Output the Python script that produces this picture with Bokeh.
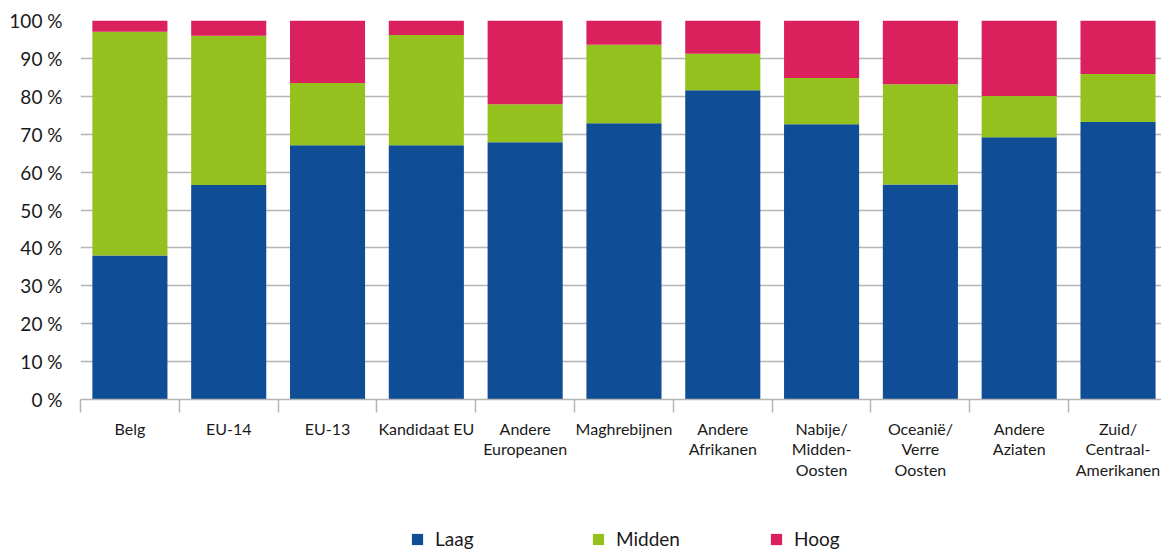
from bokeh.plotting import figure
from bokeh.models import FixedTicker, Legend, LegendItem, ColumnDataSource, Range1d
from bokeh.layouts import column
from bokeh.embed import file_html
from bokeh.resources import INLINE

categories = ["Belg", "EU-14", "EU-13", "Kandidaat EU", "Andere\nEuropeanen", "Maghrebijnen",
              "Andere\nAfrikanen", "Nabije/\nMidden-\nOosten", "Oceanië/\nVerre\nOosten",
              "Andere\nAziaten", "Zuid/\nCentraal-\nAmerikanen"]
laag = [38.0, 56.6, 67.1, 67.1, 67.9, 72.9, 81.6, 72.6, 56.7, 69.2, 73.2]
midden = [59.0, 39.4, 16.4, 29.1, 10.0, 20.7, 9.6, 12.2, 26.5, 10.9, 12.7]
hoog = [3.0, 4.0, 16.5, 3.8, 22.1, 6.4, 8.8, 15.2, 16.8, 19.9, 14.1]
series = ["Laag", "Midden", "Hoog"]
colors = ["#0F4D96", "#95C11F", "#DA215D"]
y_ticks = list(range(0, 101, 10))

FONT = "Lato"
TEXT = "#1a1a1a"
GREY = "#b5b5b5"
n = len(categories)
xpos = [i + 0.5 for i in range(n)]
src = ColumnDataSource(dict(x=xpos, Laag=laag, Midden=midden, Hoog=hoog))

# the last category is slightly cut off at the right edge, as in the original
p = figure(width=1161, height=493, output_backend="svg", toolbar_location=None,
           x_range=Range1d(0, 10.94), y_range=Range1d(0, 100),
           min_border_left=80, min_border_right=0, min_border_top=20, min_border_bottom=94)
p.outline_line_color = None

p.vbar_stack(series, x="x", width=0.76, source=src, color=colors, line_width=0)

# grid
p.xgrid.grid_line_color = None
p.ygrid.ticker = FixedTicker(ticks=y_ticks)
p.ygrid.grid_line_color = GREY
p.ygrid.grid_line_width = 1.5

# y axis
yax = p.yaxis[0]
yax.ticker = FixedTicker(ticks=y_ticks)
yax.major_label_overrides = {t: f"{t} %" for t in y_ticks}
yax.axis_line_color = None
yax.major_tick_line_color = None
yax.minor_tick_line_color = None
yax.major_tick_out = 0
yax.major_label_text_font = FONT
yax.major_label_text_font_size = "19px"
yax.major_label_text_color = TEXT
yax.major_label_standoff = 18

# x axis
xax = p.xaxis[0]
xax.ticker = FixedTicker(ticks=xpos, minor_ticks=list(range(0, n + 1)))
xax.major_label_overrides = {x: c for x, c in zip(xpos, categories)}
xax.axis_line_color = GREY
xax.axis_line_width = 1.5
xax.major_tick_line_color = None
xax.major_tick_out = 0
xax.major_tick_in = 0
xax.minor_tick_line_color = GREY
xax.minor_tick_line_width = 1.5
xax.minor_tick_out = 13
xax.minor_tick_in = 0
xax.major_label_text_font = FONT
xax.major_label_text_font_size = "16px"
xax.major_label_text_color = TEXT
xax.major_label_text_line_height = 1.08
xax.major_label_standoff = 6

# legend strip below the chart (its frame is aligned with the chart's frame)
lg = figure(width=1161, height=57, output_backend="svg", toolbar_location=None,
            x_range=Range1d(0, 10.94), y_range=Range1d(200, 300),
            x_axis_type=None, y_axis_type=None,
            min_border_left=80, min_border_right=0, min_border_top=0, min_border_bottom=0)
lg.outline_line_color = None
lg.xgrid.visible = False
lg.ygrid.visible = False

# same stacked renderers, out of the strip's visible range: used only as legend keys
lrs = lg.vbar_stack(series, x="x", width=0.76, source=src, color=colors, line_width=0)

leg_x = [330, 511, 689]
for r, name, lx in zip(lrs, series, leg_x):
    leg = Legend(items=[LegendItem(label=name, renderers=[r])], location=(lx, 0),
                 orientation="horizontal", border_line_color=None, background_fill_alpha=0,
                 padding=0, margin=0, glyph_width=14, glyph_height=14, label_standoff=11,
                 label_text_font=FONT, label_text_font_size="19px", label_text_color=TEXT)
    lg.add_layout(leg)

layout = column(p, lg, spacing=0)
open("out.html", "w").write(file_html(layout, INLINE))
